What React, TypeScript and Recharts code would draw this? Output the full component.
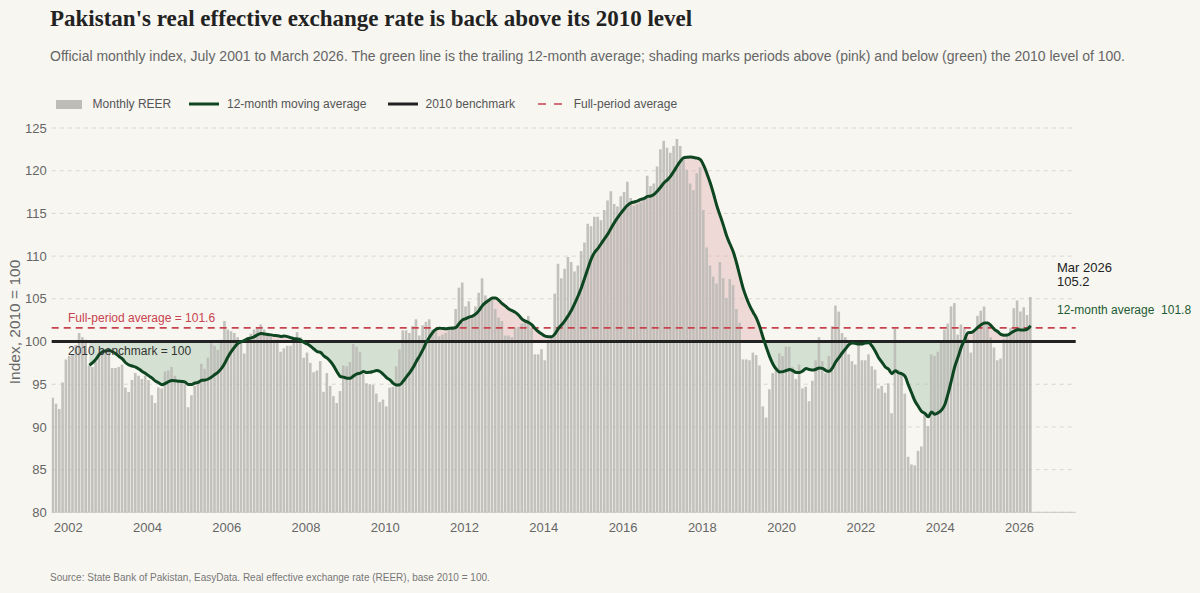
import React from "react";
import { ComposedChart, Bar, Line, Area, XAxis, YAxis, CartesianGrid, ReferenceLine } from "recharts";

// Monthly REER index (2010 = 100), July 2001 to March 2026
const monthlyReer = [
  93.4, 92.7, 92.1, 95.2, 97.9, 98.3, // 2001 Jul-Dec
  98.5, 99.6, 101.0, 100.5, 100.2, 97.2, 97.0, 97.7, 98.7, 99.0, 99.0, 98.8, // 2002
  96.9, 96.9, 97.0, 97.3, 94.6, 94.1, 95.5, 96.3, 96.0, 95.6, 96.0, 95.5, // 2003
  93.7, 92.8, 94.6, 94.5, 96.5, 96.6, 97.0, 96.0, 95.5, 95.2, 95.0, 92.3, // 2004
  93.7, 94.8, 95.5, 97.4, 96.8, 98.1, 99.8, 99.5, 99.0, 100.2, 102.4, 101.4, // 2005
  101.2, 101.0, 100.5, 99.8, 98.6, 100.5, 100.9, 101.4, 101.7, 102.0, 101.4, 100.9, // 2006
  100.6, 100.2, 100.2, 98.8, 99.2, 99.5, 99.5, 100.0, 101.1, 100.5, 98.1, 98.7, // 2007
  97.5, 96.4, 96.6, 97.7, 94.1, 96.3, 94.8, 93.6, 92.8, 94.2, 97.2, 97.1, // 2008
  97.6, 99.7, 99.4, 98.8, 96.2, 95.1, 95.0, 94.9, 93.9, 92.9, 93.2, 92.4, // 2009
  94.6, 94.7, 97.1, 99.1, 101.3, 101.3, 101.0, 101.8, 102.6, 100.7, 101.9, 102.3, // 2010
  102.6, 101.4, 101.2, 100.6, 100.8, 101.0, 101.7, 101.8, 103.8, 106.3, 106.9, 104.1, // 2011
  104.7, 102.9, 104.1, 105.7, 107.4, 105.4, 105.0, 104.9, 103.8, 102.8, 102.4, 100.7, // 2012
  100.7, 100.5, 101.6, 101.7, 102.1, 102.5, 103.0, 101.5, 98.5, 98.5, 99.1, 97.8, // 2013
  100.0, 100.5, 105.6, 109.1, 107.4, 108.5, 109.9, 109.3, 108.2, 108.9, 110.6, 111.6, // 2014
  113.8, 113.5, 114.6, 114.6, 114.2, 115.4, 116.5, 117.6, 116.1, 115.8, 117.0, 117.5, // 2015
  118.7, 116.8, 115.9, 116.1, 116.3, 116.7, 119.4, 118.2, 118.5, 120.5, 122.5, 123.5, // 2016
  122.7, 122.1, 122.9, 123.7, 122.9, 121.4, 120.1, 118.5, 117.7, 119.7, 120.4, 115.4, // 2017
  111.0, 108.9, 107.6, 106.8, 109.3, 107.4, 105.1, 107.3, 106.6, 103.8, 102.2, 97.9, // 2018
  97.9, 97.8, 98.7, 98.4, 97.2, 92.4, 91.1, 94.4, 96.3, 96.6, 98.6, 98.3, // 2019
  99.4, 99.4, 97.0, 95.6, 97.3, 94.5, 94.7, 93.0, 95.4, 97.8, 100.5, 97.7, // 2020
  96.3, 98.3, 101.8, 104.2, 103.5, 101.0, 100.5, 98.5, 97.7, 97.3, 99.6, 97.8, // 2021
  97.8, 98.5, 97.1, 96.7, 94.5, 94.8, 94.0, 95.1, 91.6, 101.5, 96.7, 96.3, // 2022
  93.9, 86.5, 85.6, 85.5, 87.2, 87.7, 91.5, 90.1, 98.5, 98.3, 98.8, 100.0, // 2023
  101.4, 102.1, 104.1, 104.5, 100.8, 102.0, 101.5, 100.4, 98.7, 101.3, 103.0, 103.6, // 2024
  104.1, 101.9, 100.5, 99.3, 97.8, 98.0, 100.3, 100.6, 101.6, 103.9, 104.8, 103.5, // 2025
  104.0, 103.1, 105.2, // 2026 Jan-Mar
];

const START_YEAR = 2001;
const START_MONTH = 7;
const BENCHMARK = 100;
const FULL_PERIOD_AVG = 101.6;
const LATEST_LABEL = "Mar 2026";

const yTicks = [80, 85, 90, 95, 100, 105, 110, 115, 120, 125];
const xTicks = [2002, 2004, 2006, 2008, 2010, 2012, 2014, 2016, 2018, 2020, 2022, 2024, 2026];

const C = {
  bg: "#f7f6f1",
  bar: "#bdbcb6",
  ma: "#0d4621",
  bench: "#222222",
  avg: "#c8434d",
  pink: "#e6bcbc",
  green: "#a8c8ae",
  grid: "#d8d6cf",
  text: "#666666",
};

// trailing 12-month mean of the monthly series
const data = monthlyReer.map((v, i) => {
  const ma = i >= 11 ? monthlyReer.slice(i - 11, i + 1).reduce((a, b) => a + b, 0) / 12 : null;
  return {
    t: START_YEAR + (START_MONTH - 1 + i + 1.4) / 12,
    reer: v,
    ma,
    above: ma == null ? null : [BENCHMARK, Math.max(ma, BENCHMARK)],
    below: ma == null ? null : [Math.min(ma, BENCHMARK), BENCHMARK],
  };
});
const latest = data[data.length - 1];

const SANS = "'Liberation Sans', Arial, sans-serif";
const TICK = { fill: C.text, fontSize: 13, fontFamily: SANS };

function Txt({ x, y, size, color, children, style }: any) {
  return (
    <div style={{ position: "absolute", left: x, top: y - size * 0.6, fontSize: size, lineHeight: `${size * 1.2}px`, color, fontFamily: SANS, whiteSpace: "pre", ...style }}>
      {children}
    </div>
  );
}

function LegendSwatch({ kind, color }: { kind: string; color: string }) {
  if (kind === "rect") return <div style={{ width: 26, height: 9, background: color }} />;
  const w = kind === "dash" ? 24 : 30;
  return (
    <svg width={w} height={6} style={{ display: "block" }}>
      <line x1={0} y1={3} x2={w} y2={3} stroke={color} strokeWidth={kind === "dash" ? 1.6 : 3} strokeDasharray={kind === "dash" ? "8 8" : undefined} />
    </svg>
  );
}

const legendItems = [
  { label: "Monthly REER", kind: "rect", color: C.bar },
  { label: "12-month moving average", kind: "line", color: C.ma },
  { label: "2010 benchmark", kind: "line", color: C.bench },
  { label: "Full-period average", kind: "dash", color: C.avg },
];
// swatch left / text left for each legend entry
const legendPos = [[56, 92.6], [189, 227], [388, 425.5], [538, 573.7]];

export default function App() {
  return (
    <div style={{ position: "absolute", left: 0, top: 0, width: 1200, height: 593, background: C.bg, overflow: "hidden" }}>
      <div style={{ position: "absolute", left: 50, top: 4.7, fontFamily: "'Liberation Serif', serif", fontWeight: 700, fontSize: 23, lineHeight: "27px", color: "#222", whiteSpace: "nowrap" }}>
        Pakistan's real effective exchange rate is back above its 2010 level
      </div>
      <Txt x={50} y={56} size={14} color={C.text}>
        Official monthly index, July 2001 to March 2026. The green line is the trailing 12-month average; shading marks periods above (pink) and below (green) the 2010 level of 100.
      </Txt>

      {legendItems.map((it, k) => (
        <React.Fragment key={it.label}>
          <div style={{ position: "absolute", left: legendPos[k][0], top: 94, height: 20, display: "flex", alignItems: "center" }}>
            <LegendSwatch kind={it.kind} color={it.color} />
          </div>
          <Txt x={legendPos[k][1]} y={104} size={12} color="#555">{it.label}</Txt>
        </React.Fragment>
      ))}

      <div style={{ position: "absolute", left: 15, top: 322, transform: "translate(-50%, -50%) rotate(-90deg)", fontFamily: SANS, fontSize: 15.5, color: C.text, whiteSpace: "nowrap" }}>
        Index, 2010 = 100
      </div>

      <div style={{ position: "absolute", left: 0, top: 0 }}>
        <ComposedChart width={1200} height={593} data={data} margin={{ top: 128, right: 124.3, left: 0, bottom: 50.7 }}>
          <CartesianGrid vertical={false} stroke={C.grid} strokeDasharray="4 4" />
          <XAxis
            dataKey="t" type="number" domain={[2001.583, 2027.42]} ticks={xTicks} allowDataOverflow
            height={30} tickSize={0} tickMargin={10} tickLine={false} axisLine={{ stroke: "#c9c7c0" }} tick={TICK}
          />
          <YAxis
            type="number" domain={[80, 125]} ticks={yTicks} allowDataOverflow width={51.7}
            tickSize={0} tickMargin={5} tickLine={false} axisLine={false} tick={TICK}
          />
          <Area dataKey="above" type="linear" stroke="none" fill={C.pink} fillOpacity={0.5} isAnimationActive={false} />
          <Area dataKey="below" type="linear" stroke="none" fill={C.green} fillOpacity={0.45} isAnimationActive={false} />
          <Bar dataKey="reer" fill={C.bar} fillOpacity={0.92} barSize={2.6} isAnimationActive={false} />
          <ReferenceLine y={FULL_PERIOD_AVG} stroke={C.avg} strokeWidth={1.6} strokeDasharray="7 5" />
          <ReferenceLine y={BENCHMARK} stroke={C.bench} strokeWidth={3} />
          <Line dataKey="ma" type="monotone" stroke={C.ma} strokeWidth={3} dot={false} isAnimationActive={false} />
        </ComposedChart>
      </div>

      <Txt x={68} y={318} size={12} color={C.avg}>Full-period average = {FULL_PERIOD_AVG}</Txt>
      <Txt x={68} y={351} size={12} color="#333">2010 benchmark = {BENCHMARK}</Txt>
      <Txt x={1057} y={267.5} size={13} color="#222">{LATEST_LABEL}</Txt>
      <Txt x={1057} y={281.5} size={13} color="#222">{latest.reer.toFixed(1)}</Txt>
      <Txt x={1057} y={310.5} size={12} color="#1d5a31">12-month average  {latest.ma!.toFixed(1)}</Txt>

      <Txt x={50} y={578} size={10} color="#777">
        Source: State Bank of Pakistan, EasyData. Real effective exchange rate (REER), base 2010 = 100.
      </Txt>
    </div>
  );
}
